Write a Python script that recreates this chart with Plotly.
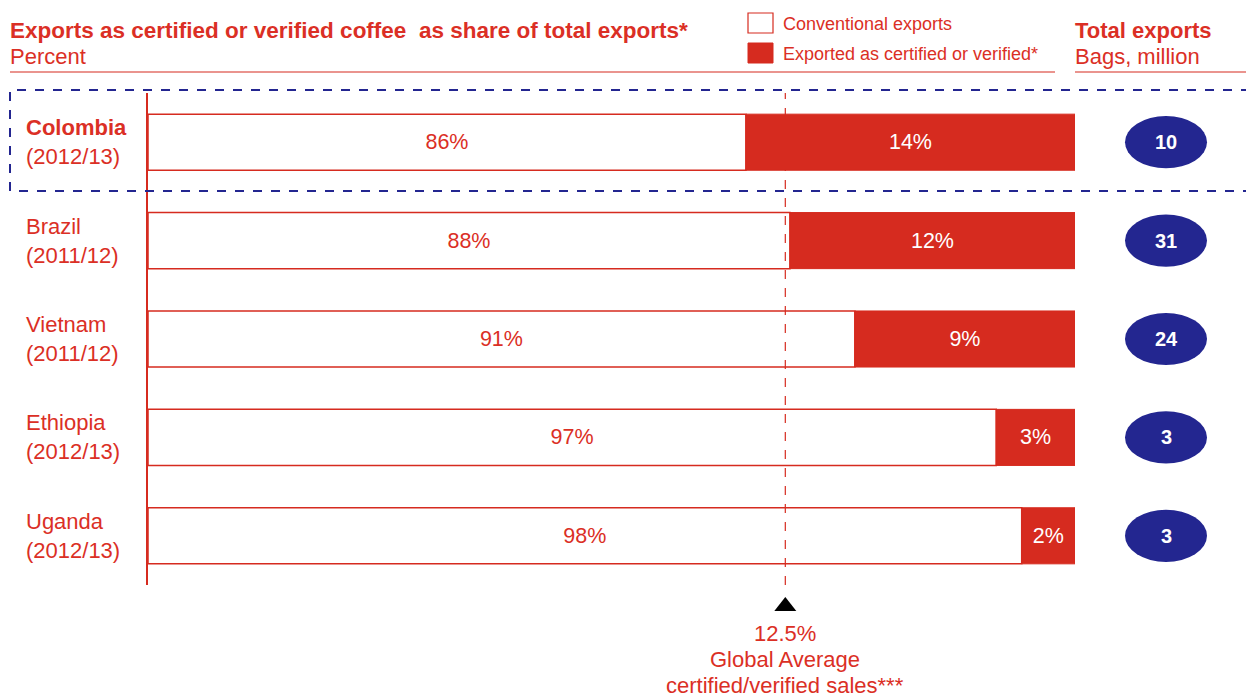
import plotly.graph_objects as go

# ---- data ----
countries = ["Colombia", "Brazil", "Vietnam", "Ethiopia", "Uganda"]
seasons = ["(2012/13)", "(2011/12)", "(2011/12)", "(2012/13)", "(2012/13)"]
conventional = [85.8, 87.7, 90.5, 96.6, 97.7]
certified = [14.2, 12.3, 9.5, 3.4, 2.3]
conv_labels = ["86%", "88%", "91%", "97%", "98%"]
cert_labels = ["14%", "12%", "9%", "3%", "2%"]
total_exports = [10, 31, 24, 3, 3]
global_avg_certified = 12.5
AXIS_MIN = 60

RED = "#D62B1F"
TXT = "#DB2F25"
NAVY = "#232690"
FONT = "Liberation Sans, Arial, sans-serif"

W, H = 1246, 697
L, R, T, B = 148, 171, 93, 112
pw, ph = W - L - R, H - T - B


def px_x(p):
    return (p - L) / pw


def px_y(p):
    return (H - B - p) / ph


fig = go.Figure()
fig.add_trace(go.Bar(
    y=countries, x=[c - AXIS_MIN for c in conventional], base=AXIS_MIN,
    orientation="h", width=0.57,
    marker=dict(color="rgba(255,255,255,0)", line=dict(color=RED, width=1.5)),
    text=conv_labels, textposition="inside", insidetextanchor="middle",
    textfont=dict(color=TXT, size=21.5, family=FONT), textangle=0,
    hoverinfo="skip", showlegend=False,
))
fig.add_trace(go.Bar(
    y=countries, x=certified, base=conventional,
    orientation="h", width=0.57,
    marker=dict(color=RED, line=dict(color=RED, width=1)),
    text=cert_labels, textposition="inside", insidetextanchor="middle",
    textfont=dict(color="white", size=21.5, family=FONT), textangle=0,
    hoverinfo="skip", showlegend=False,
))

shapes = []
ann = []

avg_x = 100 - global_avg_certified
# global average dashed line
shapes.append(dict(type="line", xref="x", yref="paper", x0=avg_x, x1=avg_x,
                   y0=0, y1=1, line=dict(color=RED, width=1.2, dash="dash"),
                   layer="below"))
# triangle
hw = 11 * (100 - AXIS_MIN) / pw
shapes.append(dict(type="path", xref="x", yref="paper",
                   path=f"M {avg_x - hw},{px_y(611)} L {avg_x + hw},{px_y(611)} L {avg_x},{px_y(597)} Z",
                   fillcolor="black", line=dict(width=0)))
bottom_lines = [f"{global_avg_certified}%", "Global Average", "certified/verified sales***"]
for k, line in enumerate(bottom_lines):
    ann.append(dict(xref="x", yref="paper", x=avg_x, y=px_y(633 + 26 * k), yanchor="middle",
                    xanchor="center", showarrow=False, text=line,
                    font=dict(color=TXT, size=22, family=FONT)))

# country labels and total export ellipses
ex_c = px_x(1166)
ex_hw = 41 / pw
for i, (c, s, t) in enumerate(zip(countries, seasons, total_exports)):
    name = f"<b>{c}</b>" if i == 0 else c
    ann.append(dict(xref="paper", yref="y", x=px_x(24), y=c, xanchor="left",
                    yanchor="middle", showarrow=False, align="left",
                    text=f"{name}<br>{s}", font=dict(color=TXT, size=22, family=FONT)))
    shapes.append(dict(type="circle", xref="paper", yref="y",
                       x0=ex_c - ex_hw, x1=ex_c + ex_hw, y0=i - 0.265, y1=i + 0.265,
                       fillcolor=NAVY, line=dict(width=0)))
    ann.append(dict(xref="paper", yref="y", x=ex_c, y=c, xanchor="center",
                    yanchor="middle", showarrow=False,
                    text=f"<b>{t}</b>", font=dict(color="white", size=20, family=FONT)))

# highlight box around Colombia
xr = px_x(1250)
xl = px_x(10)
yt, yb = px_y(90), px_y(191)
shapes.append(dict(type="path", xref="paper", yref="paper",
                   path=f"M {xr},{yt} L {xl},{yt} L {xl},{yb} L {xr},{yb}",
                   line=dict(color=NAVY, width=2, dash="dash")))

# header
ann.append(dict(xref="paper", yref="paper", x=px_x(8), y=px_y(30), xanchor="left",
                yanchor="middle", showarrow=False,
                text="<b>Exports as certified or verified coffee  as share of total exports*</b>",
                font=dict(color=TXT, size=22.5, family=FONT)))
ann.append(dict(xref="paper", yref="paper", x=px_x(8), y=px_y(57), xanchor="left",
                yanchor="middle", showarrow=False, text="Percent",
                font=dict(color=TXT, size=22, family=FONT)))
ann.append(dict(xref="paper", yref="paper", x=px_x(1073), y=px_y(30), xanchor="left",
                yanchor="middle", showarrow=False, text="<b>Total exports</b>",
                font=dict(color=TXT, size=22, family=FONT)))
ann.append(dict(xref="paper", yref="paper", x=px_x(1073), y=px_y(57), xanchor="left",
                yanchor="middle", showarrow=False, text="Bags, million",
                font=dict(color=TXT, size=22, family=FONT)))
shapes.append(dict(type="line", xref="paper", yref="paper", x0=px_x(10), x1=px_x(1055),
                   y0=px_y(72), y1=px_y(72), line=dict(color=RED, width=1.2)))
shapes.append(dict(type="line", xref="paper", yref="paper", x0=px_x(1075), x1=px_x(1246),
                   y0=px_y(72), y1=px_y(72), line=dict(color=RED, width=1.2)))

# legend
shapes.append(dict(type="rect", xref="paper", yref="paper", x0=px_x(748), x1=px_x(773),
                   y0=px_y(33), y1=px_y(13), fillcolor="white", line=dict(color=RED, width=1.2)))
shapes.append(dict(type="rect", xref="paper", yref="paper", x0=px_x(748), x1=px_x(773),
                   y0=px_y(63), y1=px_y(43), fillcolor=RED, line=dict(color=RED, width=1)))
ann.append(dict(xref="paper", yref="paper", x=px_x(781), y=px_y(24), xanchor="left",
                yanchor="middle", showarrow=False, text="Conventional exports",
                font=dict(color=TXT, size=18, family=FONT)))
ann.append(dict(xref="paper", yref="paper", x=px_x(781), y=px_y(54), xanchor="left",
                yanchor="middle", showarrow=False, text="Exported as certified or verified*",
                font=dict(color=TXT, size=18, family=FONT)))

fig.update_layout(
    width=W, height=H, margin=dict(l=L, r=R, t=T, b=B),
    barmode="overlay", paper_bgcolor="white", plot_bgcolor="white",
    font=dict(family=FONT, color=TXT),
    shapes=shapes, annotations=ann, showlegend=False,
    xaxis=dict(range=[AXIS_MIN, 100], visible=False, fixedrange=True),
    yaxis=dict(categoryorder="array", categoryarray=countries,
               range=[len(countries) - 0.5, -0.5], showticklabels=False,
               showgrid=False, zeroline=False, showline=True, linecolor=RED,
               linewidth=1.5, ticks=""),
)
fig.write_html("out.html")
